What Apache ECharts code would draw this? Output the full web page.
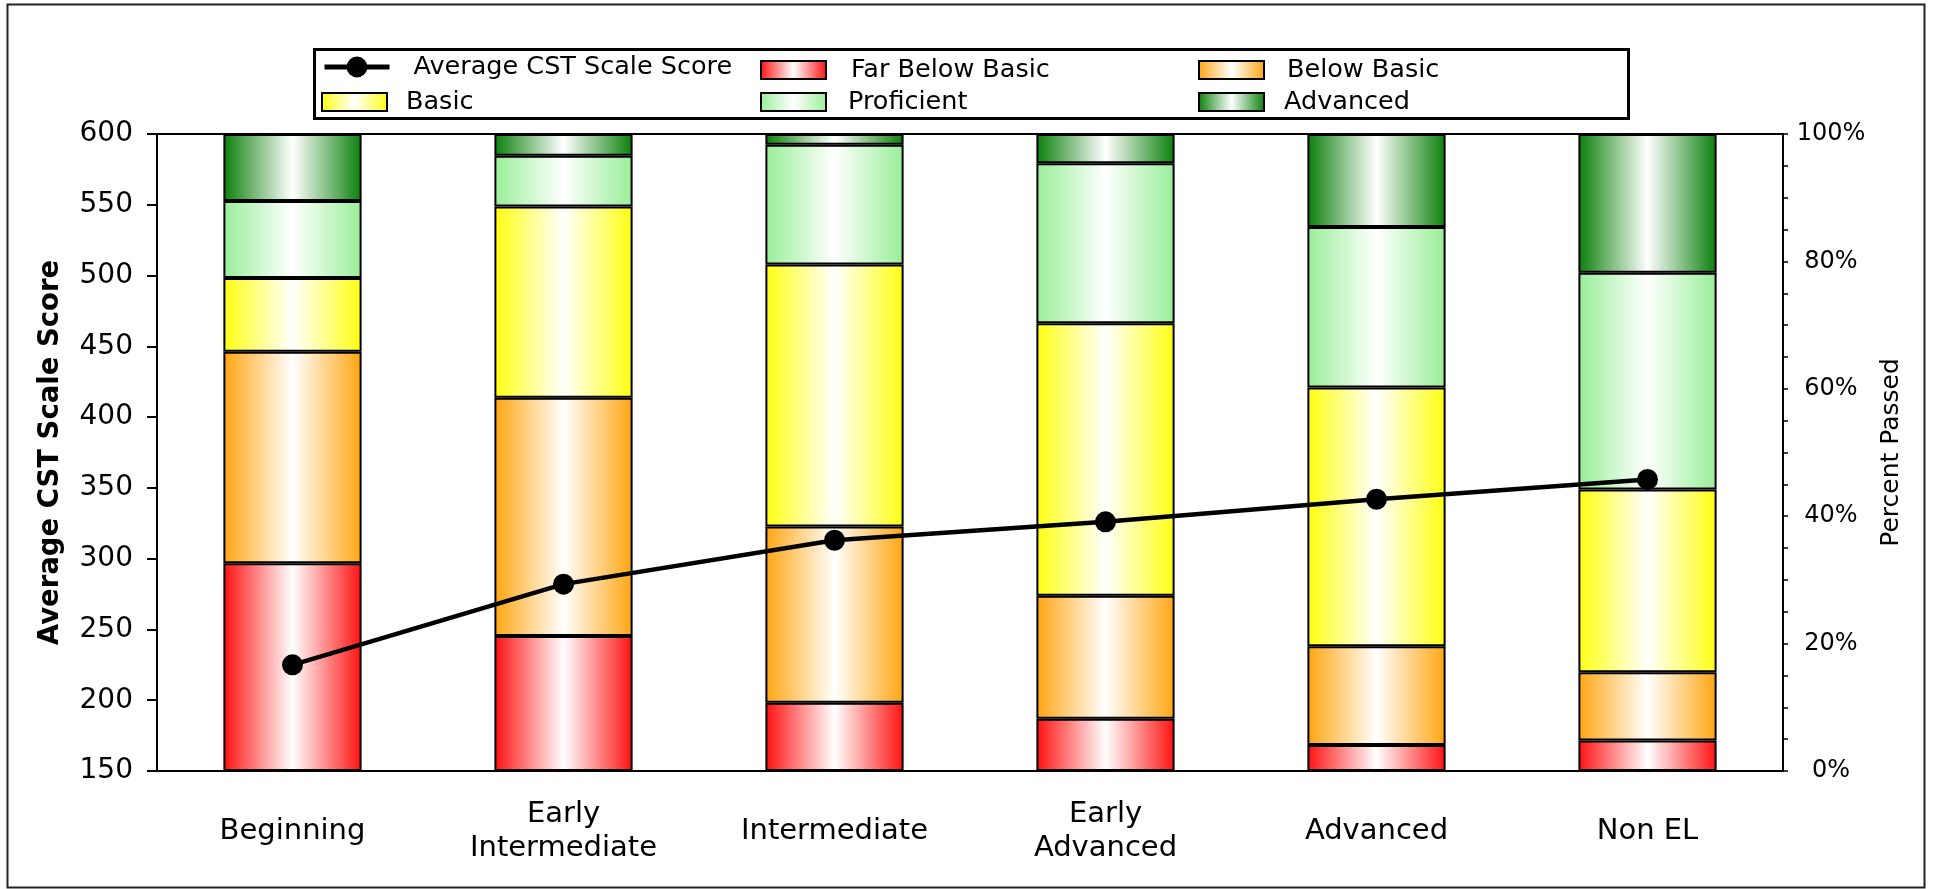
<!DOCTYPE html>
<html>
<head>
<meta charset="utf-8">
<script src="https://cdn.jsdelivr.net/npm/echarts@6/dist/echarts.min.js"></script>
<style>
html,body{margin:0;padding:0;background:#fff;}
#chart{width:1933px;height:889px;}
</style>
</head>
<body>
<div id="chart"></div>
<script>
// ---- data ----
const categories = ['Beginning', 'Early\nIntermediate', 'Intermediate', 'Early\nAdvanced', 'Advanced', 'Non EL'];
const avgScore   = [225, 282, 313, 326, 342, 356];
const farBelowBasic = [32.6, 21.2, 10.7, 8.2, 4.1, 4.8];
const belowBasic    = [33.2, 37.4, 27.7, 19.3, 15.5, 10.7];
const basic         = [11.6, 30.0, 41.1, 42.8, 40.6, 28.7];
const proficient    = [12.1, 8.0, 18.8, 25.1, 25.2, 34.0];
const advanced      = [10.5, 3.4, 1.7, 4.6, 14.6, 21.8];
const leftTicks  = {min: 150, max: 600, interval: 50};
const rightTicks = {min: 0, max: 100, interval: 20};

const FONT = 'DejaVu Sans';
function grad(c) {
  return new echarts.graphic.LinearGradient(0, 0, 1, 0, [
    {offset: 0, color: c}, {offset: 0.5, color: '#ffffff'}, {offset: 1, color: c}
  ]);
}
const segs = [
  {name: 'Far Below Basic', data: farBelowBasic, color: '#ff1010'},
  {name: 'Below Basic', data: belowBasic, color: '#ffa510'},
  {name: 'Basic', data: basic, color: '#ffff10'},
  {name: 'Proficient', data: proficient, color: '#98ee98'},
  {name: 'Advanced', data: advanced, color: '#0a800a'}
];

const chart = echarts.init(document.getElementById('chart'), null, {renderer: 'canvas'});

function leg(name, left, iconCenterY, pad, ih) {
  ih = ih || 18;
  const isLine = name === 'Average CST Scale Score';
  const l = {
    data: [name], left: left, top: iconCenterY - ih / 2, padding: 0,
    itemWidth: 65, itemHeight: ih,
    selectedMode: false,
    textStyle: {fontFamily: FONT, fontSize: 25.5, color: '#000', padding: [0, 0, 0, pad]}
  };
  if (isLine) {
    l.lineStyle = {width: 5, color: '#000'};
  } else {
    l.icon = 'rect';
    l.itemStyle = {borderColor: '#000', borderWidth: 2};
  }
  return l;
}

const option = {
  animation: false,
  backgroundColor: '#fff',
  grid: {left: 157, right: 150, top: 134, bottom: 118, show: true, borderColor: '#000', borderWidth: 2, outerBoundsMode: 'none'},
  legend: [
    leg('Average CST Scale Score', 322, 67, 19, 26),
    leg('Far Below Basic', 760, 66, 20),
    leg('Below Basic', 1198, 66, 18),
    leg('Basic', 321, 98, 14),
    leg('Proficient', 760, 98, 17),
    leg('Advanced', 1198, 98, 15)
  ],
  graphic: [
    {type: 'rect', shape: {x: 7.5, y: 4.5, width: 1917, height: 883}, style: {fill: null, stroke: '#222', lineWidth: 2}, silent: true},
    {type: 'rect', shape: {x: 314.5, y: 49.5, width: 1314, height: 69}, style: {fill: null, stroke: '#000', lineWidth: 3}, silent: true}
  ],
  xAxis: {
    type: 'category', data: categories,
    axisLine: {lineStyle: {color: '#000', width: 2}},
    axisTick: {alignWithLabel: true, length: 12, lineStyle: {color: '#000', width: 2}},
    axisLabel: {fontFamily: FONT, fontSize: 29, color: '#000', margin: 60, lineHeight: 34, verticalAlign: 'middle', interval: 0}
  },
  yAxis: [
    {
      type: 'value', position: 'left', min: leftTicks.min, max: leftTicks.max, interval: leftTicks.interval,
      name: 'Average CST Scale Score', nameLocation: 'middle', nameGap: 92,
      nameTextStyle: {fontFamily: FONT, fontSize: 27.5, fontWeight: 'bold', color: '#000'},
      axisLine: {show: true, lineStyle: {color: '#000', width: 2}},
      axisTick: {show: true, length: 10, lineStyle: {color: '#000', width: 2}},
      axisLabel: {fontFamily: FONT, fontSize: 28, color: '#000', margin: 24},
      splitLine: {show: false}
    },
    {
      type: 'value', position: 'right', min: rightTicks.min, max: rightTicks.max, interval: rightTicks.interval,
      name: 'Percent Passed', nameLocation: 'middle', nameGap: 96, nameRotate: 90,
      nameTextStyle: {fontFamily: FONT, fontSize: 25, color: '#000'},
      axisLine: {show: true, lineStyle: {color: '#000', width: 2}},
      axisTick: {show: true, length: 5, lineStyle: {color: '#000', width: 1.5}},
      minorTick: {show: true, splitNumber: 4, length: 5, lineStyle: {color: '#000', width: 1.5}},
      axisLabel: {fontFamily: FONT, fontSize: 24, color: '#000', margin: 48, align: 'center', formatter: '{value}%'},
      splitLine: {show: false}
    }
  ],
  series: [
    {
      name: 'Average CST Scale Score', type: 'line', yAxisIndex: 0, data: avgScore, z: 5,
      symbol: 'circle', symbolSize: 21,
      lineStyle: {color: '#000', width: 4.5},
      itemStyle: {color: '#000'}
    }
  ].concat(segs.map(s => ({
    name: s.name, type: 'bar', stack: 'pct', yAxisIndex: 1, data: s.data, barWidth: '51%',
    itemStyle: {color: grad(s.color), borderColor: '#000', borderWidth: 2}
  })))
};
chart.setOption(option);
</script>
</body>
</html>
